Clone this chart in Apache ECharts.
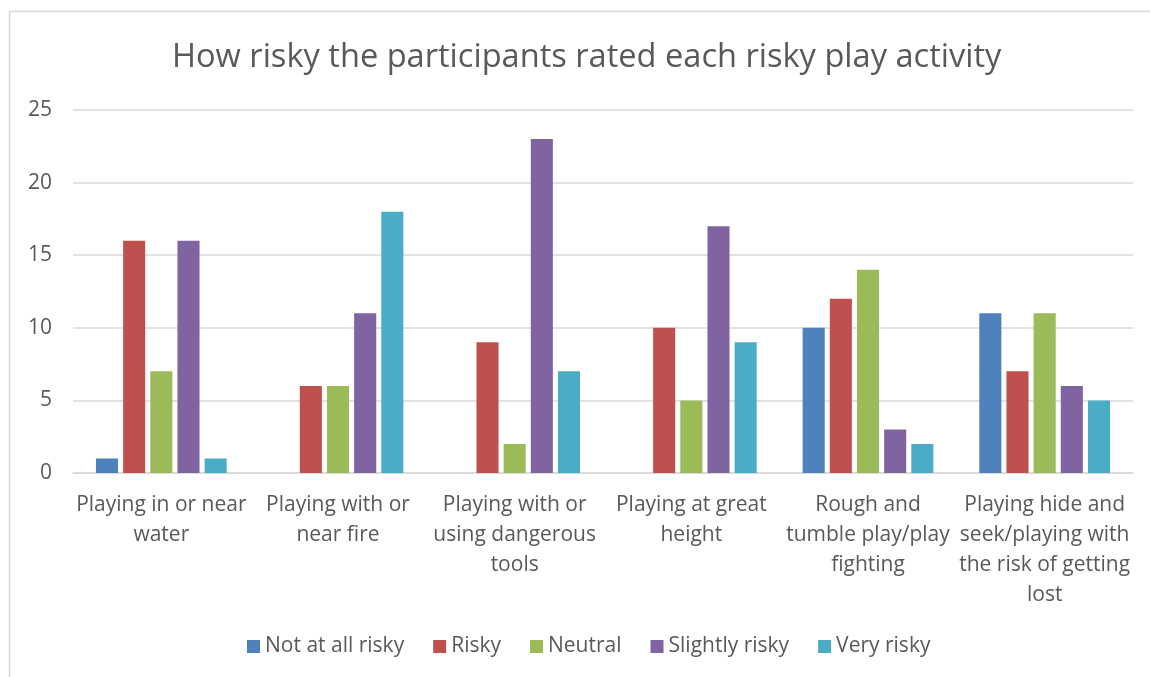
<!DOCTYPE html>
<html>
<head>
<meta charset="utf-8">
<script src="https://cdn.jsdelivr.net/npm/echarts@6/dist/echarts.min.js"></script>
<style>
  html, body { margin: 0; padding: 0; background: #fff; }
  #chart { width: 1150px; height: 677px; }
</style>
</head>
<body>
<div id="chart"></div>
<script>
// Activities (line breaks follow the wrapped axis labels)
const categories = [
  'Playing in or near\nwater',
  'Playing with or\nnear fire',
  'Playing with or\nusing dangerous\ntools',
  'Playing at great\nheight',
  'Rough and\ntumble play/play\nfighting',
  'Playing hide and\nseek/playing with\nthe risk of getting\nlost'
];

// Number of participants per rating
const notAtAllRisky = [1, 0, 0, 0, 10, 11];
const risky         = [16, 6, 9, 10, 12, 7];
const neutral       = [7, 6, 2, 5, 14, 11];
const slightlyRisky = [16, 11, 23, 17, 3, 6];
const veryRisky     = [1, 18, 7, 9, 2, 5];

const seriesNames = ['Not at all risky', 'Risky', 'Neutral', 'Slightly risky', 'Very risky'];
const seriesData = [notAtAllRisky, risky, neutral, slightlyRisky, veryRisky];
const colors = ['#4F81BD', '#C0504D', '#9BBB59', '#8064A2', '#4BACC6'];

const FONT = '"Open Sans", Lato, sans-serif';
const TEXT = '#595959';

const chart = echarts.init(document.getElementById('chart'), null, { renderer: 'canvas' });

chart.setOption({
  backgroundColor: '#ffffff',
  animation: false,
  color: colors,
  title: {
    text: 'How risky the participants rated each risky play activity',
    left: 167,
    top: 36,
    textStyle: { fontFamily: FONT, fontSize: 32.6, fontWeight: 'normal', color: TEXT }
  },
  legend: {
    top: 636,
    left: 247,
    padding: 0,
    itemWidth: 13,
    itemHeight: 13,
    itemGap: 29,
    icon: 'rect',
    textStyle: { fontFamily: FONT, fontSize: 21, color: TEXT },
    data: seriesNames
  },
  grid: { left: 73, right: 17, top: 110, bottom: 204, containLabel: false },
  xAxis: {
    type: 'category',
    data: categories,
    axisLine: { lineStyle: { color: '#d9d9d9', width: 1.5 } },
    axisTick: { show: false },
    axisLabel: {
      fontFamily: FONT,
      fontSize: 21,
      color: TEXT,
      lineHeight: 30,
      margin: 17,
      interval: 0,
      align: 'center'
    }
  },
  yAxis: {
    type: 'value',
    min: 0,
    max: 25,
    interval: 5,
    axisLine: { show: false },
    axisTick: { show: false },
    splitLine: { lineStyle: { color: '#d9d9d9', width: 1.5 } },
    axisLabel: { fontFamily: FONT, fontSize: 21, color: TEXT, margin: 21 }
  },
  graphic: [{
    type: 'rect',
    shape: { x: 9.5, y: 11.5, width: 1300, height: 800 },
    style: { fill: 'none', stroke: '#d9d9d9', lineWidth: 1.5 },
    silent: true,
    z: -1
  }],
  series: seriesNames.map((name, i) => ({
    name: name,
    type: 'bar',
    data: seriesData[i],
    barGap: '23%',
    barCategoryGap: '26%',
    itemStyle: { color: colors[i] }
  }))
});
</script>
</body>
</html>
